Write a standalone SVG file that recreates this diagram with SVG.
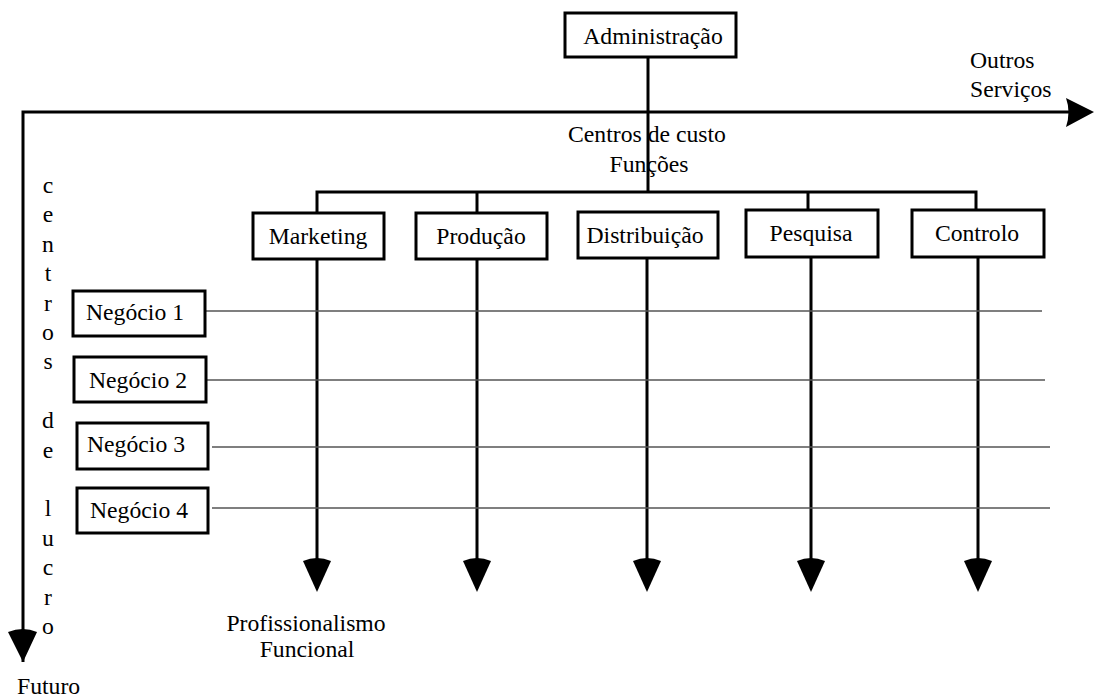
<svg xmlns="http://www.w3.org/2000/svg" width="1094" height="700" viewBox="0 0 1094 700" font-family="'Liberation Serif', 'Times New Roman', Times, 'DejaVu Serif', serif">
<style>
text{font-family:'Liberation Serif','Times New Roman',Times,'DejaVu Serif',serif;font-size:23.7px;fill:#000}
.c{text-anchor:middle}
.box{fill:#fff;stroke:#000;stroke-width:3}
.thick{fill:none;stroke:#000;stroke-width:3}
.thin{fill:none;stroke:#555;stroke-width:1.3}
.head{fill:#000;stroke:none}
</style>
<rect width="1094" height="700" fill="#fff"/>
<g id="connectors">
<path class="thick" d="M648,57 V192"/>
<path class="thick" d="M317,212 V192 H976 V212"/>
<path class="thick" d="M477,192 V212"/>
<path class="thick" d="M808,192 V210"/>
<path class="thick" d="M23,662 V112 H1070"/>
<path class="thick" d="M317,259 V562"/>
<path class="thick" d="M477,259 V562"/>
<path class="thick" d="M647,259 V562"/>
<path class="thick" d="M811,257 V562"/>
<path class="thick" d="M978,257 V562"/>
<path class="thin" d="M205,311 H1042"/>
<path class="thin" d="M206,380 H1045"/>
<path class="thin" d="M212,447 H1050"/>
<path class="thin" d="M212,508 H1050"/>
<path class="head" d="M1066,98 Q1071,112 1066,127 L1094,112 Z"/>
<path class="head" d="M8,632 Q23,626 37,632 L23,662 Z"/>
<path class="head" d="M303,561 Q317,555 331,561 L317,592 Z"/>
<path class="head" d="M463,561 Q477,555 491,561 L477,592 Z"/>
<path class="head" d="M633,561 Q647,555 661,561 L647,592 Z"/>
<path class="head" d="M797,561 Q811,555 825,561 L811,592 Z"/>
<path class="head" d="M964,561 Q978,555 992,561 L978,592 Z"/>
</g>
<g id="admin"><rect class="box" x="565" y="13" width="171" height="44"/><text class="c" x="653" y="44">Administração</text></g>
<g id="marketing"><rect class="box" x="253" y="213" width="131" height="46"/><text class="c" x="318" y="244">Marketing</text></g>
<g id="producao"><rect class="box" x="416" y="213" width="131" height="46"/><text class="c" x="481" y="244">Produção</text></g>
<g id="distribuicao"><rect class="box" x="578" y="212" width="140" height="46"/><text class="c" x="645" y="243">Distribuição</text></g>
<g id="pesquisa"><rect class="box" x="746" y="210" width="132" height="47"/><text class="c" x="811" y="241">Pesquisa</text></g>
<g id="controlo"><rect class="box" x="912" y="210" width="132" height="47"/><text class="c" x="977" y="241">Controlo</text></g>
<g id="negocio1"><rect class="box" x="73" y="291" width="132" height="45"/><text class="c" x="135" y="320">Negócio 1</text></g>
<g id="negocio2"><rect class="box" x="74" y="357" width="132" height="45"/><text class="c" x="138" y="388">Negócio 2</text></g>
<g id="negocio3"><rect class="box" x="77" y="423" width="131" height="46"/><text class="c" x="136" y="452">Negócio 3</text></g>
<g id="negocio4"><rect class="box" x="77" y="488" width="131" height="45"/><text class="c" x="139" y="518">Negócio 4</text></g>
<g id="labels">
<text x="970" y="68">Outros</text>
<text x="970" y="97">Serviços</text>
<text class="c" x="647" y="142">Centros de custo</text>
<text class="c" x="649" y="172">Funções</text>
<text class="c" x="306" y="631">Profissionalismo</text>
<text class="c" x="307" y="657">Funcional</text>
<text x="17" y="694">Futuro</text>
<text class="c" x="48" y="193">c</text>
<text class="c" x="48" y="222">e</text>
<text class="c" x="48" y="252">n</text>
<text class="c" x="48" y="281">t</text>
<text class="c" x="48" y="311">r</text>
<text class="c" x="48" y="340">o</text>
<text class="c" x="48" y="369">s</text>
<text class="c" x="48" y="428">d</text>
<text class="c" x="48" y="458">e</text>
<text class="c" x="48" y="516">l</text>
<text class="c" x="48" y="546">u</text>
<text class="c" x="48" y="575">c</text>
<text class="c" x="48" y="605">r</text>
<text class="c" x="48" y="634">o</text>
</g>
</svg>
